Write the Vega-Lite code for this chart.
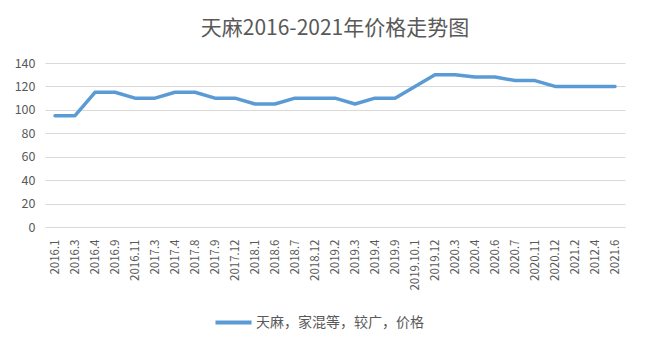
{
  "$schema": "https://vega.github.io/schema/vega-lite/v6.json",
  "width": 580,
  "height": 164,
  "autosize": {"type": "none"},
  "padding": {"left": 45, "top": 63, "right": 22, "bottom": 126},
  "background": "white",
  "title": {
    "text": "天麻2016-2021年价格走势图",
    "font": "Noto Sans CJK SC",
    "fontSize": 21,
    "fontWeight": "normal",
    "color": "#595959",
    "anchor": "middle",
    "offset": 18
  },
  "data": {
    "values": [
      {"d": "2016.1", "v": 95, "s": "天麻，家混等，较广，价格"},
      {"d": "2016.3", "v": 95, "s": "天麻，家混等，较广，价格"},
      {"d": "2016.4", "v": 115, "s": "天麻，家混等，较广，价格"},
      {"d": "2016.9", "v": 115, "s": "天麻，家混等，较广，价格"},
      {"d": "2016.11", "v": 110, "s": "天麻，家混等，较广，价格"},
      {"d": "2017.3", "v": 110, "s": "天麻，家混等，较广，价格"},
      {"d": "2017.4", "v": 115, "s": "天麻，家混等，较广，价格"},
      {"d": "2017.8", "v": 115, "s": "天麻，家混等，较广，价格"},
      {"d": "2017.9", "v": 110, "s": "天麻，家混等，较广，价格"},
      {"d": "2017.12", "v": 110, "s": "天麻，家混等，较广，价格"},
      {"d": "2018.1", "v": 105, "s": "天麻，家混等，较广，价格"},
      {"d": "2018.6", "v": 105, "s": "天麻，家混等，较广，价格"},
      {"d": "2018.7", "v": 110, "s": "天麻，家混等，较广，价格"},
      {"d": "2018.12", "v": 110, "s": "天麻，家混等，较广，价格"},
      {"d": "2019.2", "v": 110, "s": "天麻，家混等，较广，价格"},
      {"d": "2019.3", "v": 105, "s": "天麻，家混等，较广，价格"},
      {"d": "2019.4", "v": 110, "s": "天麻，家混等，较广，价格"},
      {"d": "2019.9", "v": 110, "s": "天麻，家混等，较广，价格"},
      {"d": "2019.10.1", "v": 120, "s": "天麻，家混等，较广，价格"},
      {"d": "2019.12", "v": 130, "s": "天麻，家混等，较广，价格"},
      {"d": "2020.3", "v": 130, "s": "天麻，家混等，较广，价格"},
      {"d": "2020.4", "v": 128, "s": "天麻，家混等，较广，价格"},
      {"d": "2020.6", "v": 128, "s": "天麻，家混等，较广，价格"},
      {"d": "2020.7", "v": 125, "s": "天麻，家混等，较广，价格"},
      {"d": "2020.11", "v": 125, "s": "天麻，家混等，较广，价格"},
      {"d": "2020.12", "v": 120, "s": "天麻，家混等，较广，价格"},
      {"d": "2021.2", "v": 120, "s": "天麻，家混等，较广，价格"},
      {"d": "2012.4", "v": 120, "s": "天麻，家混等，较广，价格"},
      {"d": "2021.6", "v": 120, "s": "天麻，家混等，较广，价格"}
    ]
  },
  "mark": {"type": "line", "strokeWidth": 3.5, "strokeJoin": "round", "strokeCap": "round"},
  "encoding": {
    "x": {
      "field": "d",
      "type": "ordinal",
      "sort": null,
      "scale": {"type": "point", "padding": 0.5},
      "axis": {
        "title": null,
        "labelAngle": -90,
        "labelFont": "Noto Sans CJK SC",
        "labelFontSize": 11.5,
        "labelColor": "#595959",
        "ticks": false,
        "domain": true,
        "domainColor": "#d9d9d9",
        "labelPadding": 12,
        "grid": false
      }
    },
    "y": {
      "field": "v",
      "type": "quantitative",
      "scale": {"domain": [0, 140], "nice": false},
      "axis": {
        "title": null,
        "values": [0, 20, 40, 60, 80, 100, 120, 140],
        "labelFont": "Noto Sans CJK SC",
        "labelFontSize": 12.5,
        "labelColor": "#595959",
        "ticks": false,
        "domain": false,
        "gridColor": "#d9d9d9",
        "labelPadding": 10
      }
    },
    "color": {
      "field": "s",
      "type": "nominal",
      "scale": {"range": ["#5B9BD5"]},
      "legend": {
        "title": null,
        "orient": "none",
        "legendX": 168,
        "legendY": 239,
        "symbolType": "stroke",
        "symbolSize": 1300,
        "symbolStrokeWidth": 4,
        "labelFont": "Noto Sans CJK SC",
        "labelFontSize": 14,
        "labelLimit": 400,
        "labelColor": "#595959",
        "labelOffset": 2
      }
    }
  },
  "config": {"view": {"stroke": null}}
}
